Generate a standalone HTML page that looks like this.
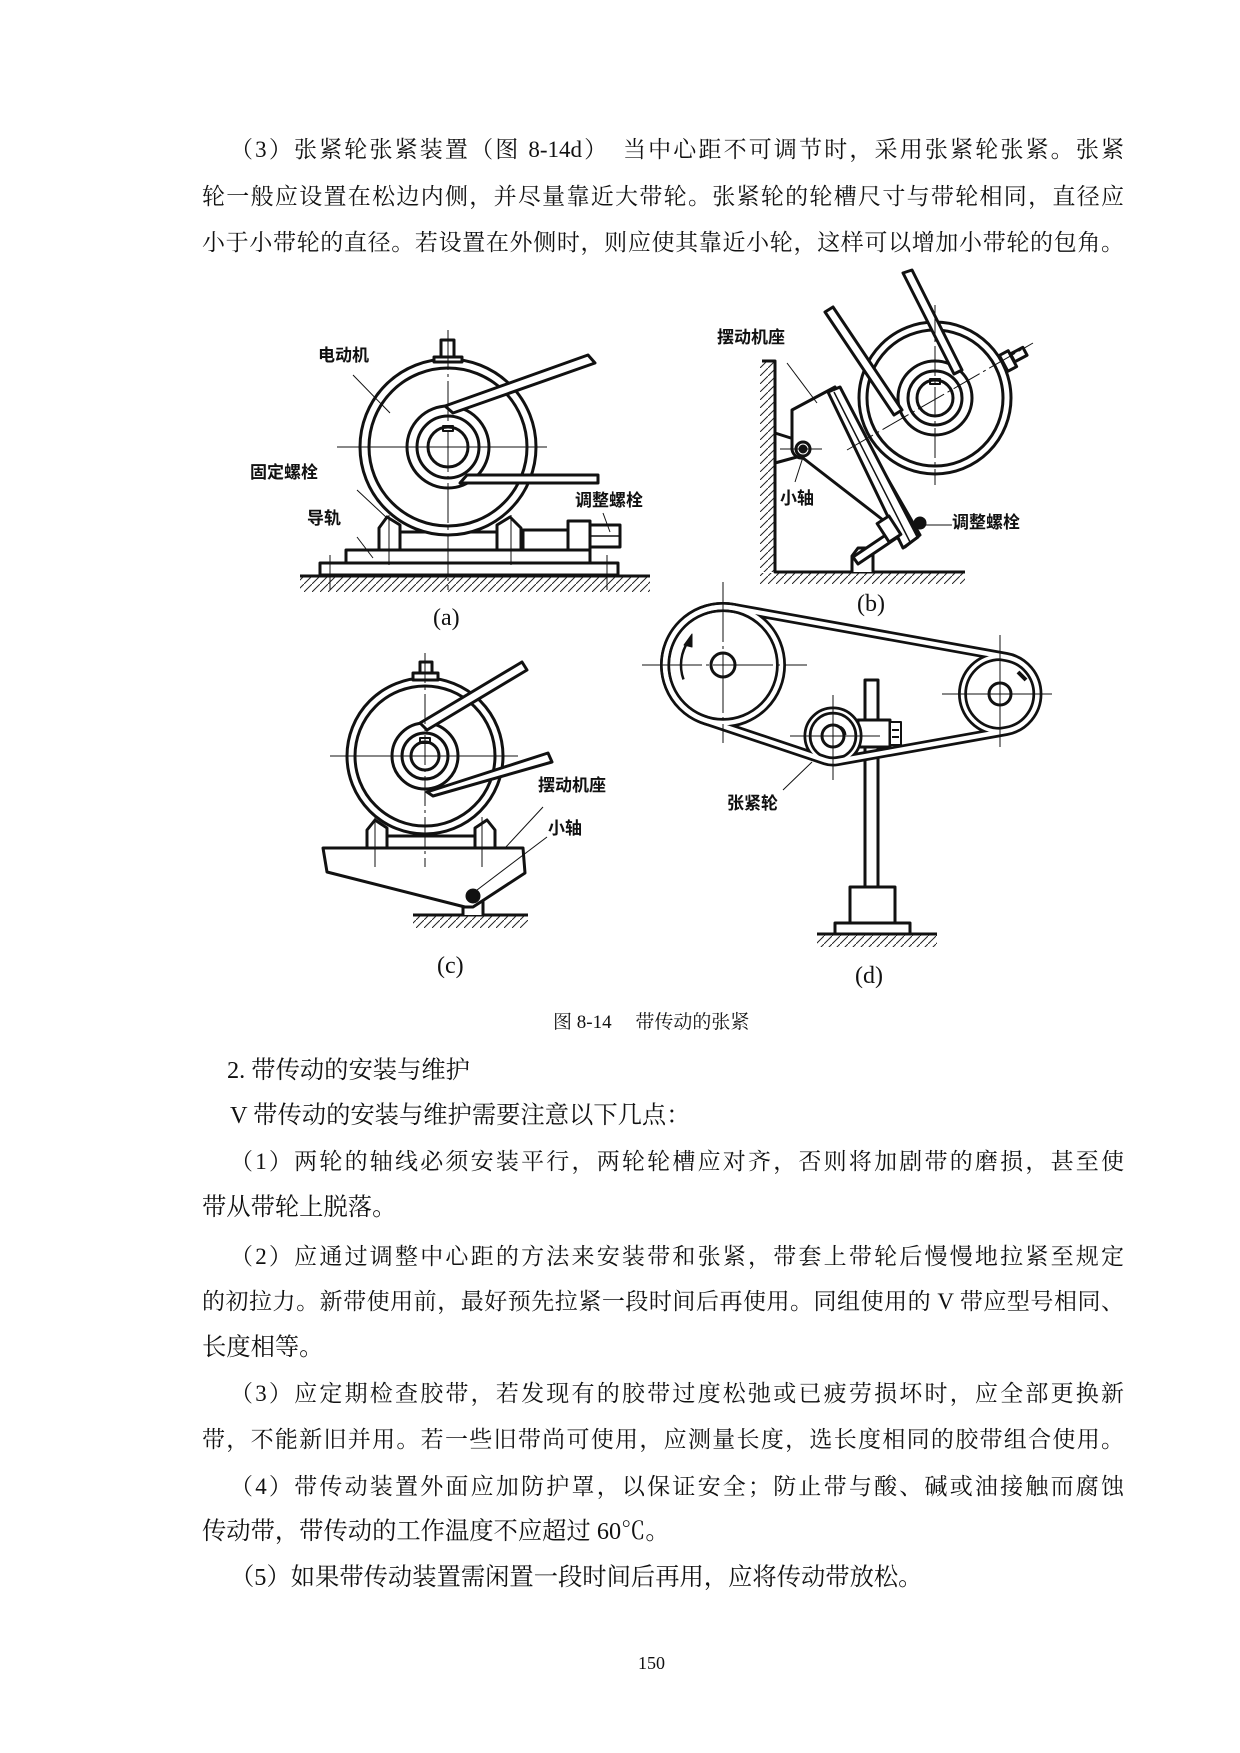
<!DOCTYPE html>
<html><head><meta charset="utf-8">
<style>
html,body{margin:0;padding:0;background:#fff;}
#pg{position:relative;width:1240px;height:1753px;overflow:hidden;background:#fff;}
.t{position:absolute;font-family:"Liberation Serif","Noto Serif CJK SC",serif;font-size:23px;line-height:24px;color:#111;white-space:nowrap;}
.s{font-size:24.3px;}
.j{text-align:justify;text-align-last:justify;white-space:normal;}
svg{position:absolute;left:0;top:0;}
.lb{font-family:"Liberation Sans","Noto Sans CJK SC",sans-serif;font-weight:bold;font-size:17px;fill:#111;}
.cap{font-family:"Liberation Serif",serif;font-size:24px;fill:#111;}
</style></head><body><div id="pg">

<div class="t j" style="left:230px;top:138px;width:894px;">（3）张紧轮张紧装置（图 8-14d）　当中心距不可调节时，采用张紧轮张紧。张紧</div>
<div class="t j" style="left:202px;top:185px;width:922px;">轮一般应设置在松边内侧，并尽量靠近大带轮。张紧轮的轮槽尺寸与带轮相同，直径应</div>
<div class="t j" style="left:202px;top:231px;width:922px;">小于小带轮的直径。若设置在外侧时，则应使其靠近小轮，这样可以增加小带轮的包角。</div>

<div class="t s" style="left:227px;top:1059px;">2. 带传动的安装与维护</div>
<div class="t s" style="left:230px;top:1104px;">V 带传动的安装与维护需要注意以下几点：</div>
<div class="t j" style="left:230px;top:1150px;width:894px;">（1）两轮的轴线必须安装平行，两轮轮槽应对齐，否则将加剧带的磨损，甚至使</div>
<div class="t s" style="left:202px;top:1196px;">带从带轮上脱落。</div>
<div class="t j" style="left:230px;top:1245px;width:894px;">（2）应通过调整中心距的方法来安装带和张紧，带套上带轮后慢慢地拉紧至规定</div>
<div class="t j" style="left:202px;top:1290px;width:922px;">的初拉力。新带使用前，最好预先拉紧一段时间后再使用。同组使用的 V 带应型号相同、</div>
<div class="t s" style="left:202px;top:1336px;">长度相等。</div>
<div class="t j" style="left:230px;top:1382px;width:894px;">（3）应定期检查胶带，若发现有的胶带过度松弛或已疲劳损坏时，应全部更换新</div>
<div class="t j" style="left:202px;top:1428px;width:922px;">带，不能新旧并用。若一些旧带尚可使用，应测量长度，选长度相同的胶带组合使用。</div>
<div class="t j" style="left:230px;top:1475px;width:894px;">（4）带传动装置外面应加防护罩，以保证安全；防止带与酸、碱或油接触而腐蚀</div>
<div class="t s" style="left:202px;top:1520px;">传动带，带传动的工作温度不应超过 60℃。</div>
<div class="t s" style="left:230px;top:1566px;">（5）如果带传动装置需闲置一段时间后再用，应将传动带放松。</div>
<div class="t" style="left:638px;top:1653px;font-size:18px;line-height:20px;">150</div>
<div class="t" style="left:553px;top:1012px;font-size:19px;line-height:22px;">图 8-14　 带传动的张紧</div>

<svg width="1240" height="1753" viewBox="0 0 1240 1753">
<defs>
<pattern id="h" patternUnits="userSpaceOnUse" width="8" height="8"><path d="M-1,9 L9,-1" stroke="#222" stroke-width="1"/></pattern>
</defs>
<g fill="none" stroke="#111" stroke-width="3" stroke-linejoin="round">

<rect x="300" y="577" width="350" height="15" fill="url(#h)" stroke="none"/>
<line x1="300" y1="576" x2="650" y2="576"/>
<rect x="320" y="563" width="298" height="12" fill="#fff"/>
<rect x="346" y="550" width="244" height="13" fill="#fff"/>
<rect x="523" y="530" width="45" height="20" fill="#fff"/>
<rect x="568" y="521" width="22" height="29" fill="#fff"/>
<rect x="590" y="525" width="30" height="22" fill="#fff"/>
<line x1="590" y1="536" x2="620" y2="536" stroke-width="1.5"/>
<path d="M379,550 L379,528 L387,517 L400,525 L400,550 Z" fill="#fff"/>
<path d="M497,550 L497,525 L510,517 L521,528 L521,550 Z" fill="#fff"/>
<rect x="400" y="532" width="97" height="18" fill="#fff"/>
<circle cx="448" cy="447" r="88" fill="#fff"/>
<circle cx="448" cy="447" r="79"/>
<circle cx="448" cy="447" r="41"/>
<circle cx="448" cy="447" r="31"/>
<circle cx="448" cy="447" r="20"/>
<rect x="443" y="426" width="10" height="5" stroke-width="2"/>
<rect x="441" y="340" width="13" height="17" fill="#fff"/>
<rect x="434" y="357" width="28" height="5" fill="#fff"/>
<polygon points="445,406 588,355 595,363 453,413" fill="#fff"/>
<polygon points="467,475 598,475 598,483 460,483" fill="#fff"/>
<g stroke-width="1">
<line x1="337" y1="447" x2="547" y2="447"/>
<line x1="448" y1="330" x2="448" y2="590" stroke-dasharray="40 4 3 4"/>
<line x1="330" y1="555" x2="330" y2="590"/><line x1="389" y1="515" x2="389" y2="565"/>
<line x1="511" y1="515" x2="511" y2="565"/><line x1="607" y1="555" x2="607" y2="590"/>
<line x1="353" y1="375" x2="390" y2="413"/>
<line x1="357" y1="490" x2="387" y2="518"/>
<line x1="357" y1="537" x2="373" y2="558"/>
<line x1="603" y1="513" x2="610" y2="532"/>
</g>

<rect x="760" y="361" width="15" height="211" fill="url(#h)" stroke="none"/>
<rect x="760" y="573" width="205" height="11" fill="url(#h)" stroke="none"/>
<polyline points="762,361 775,361 775,572 965,572"/>
<line x1="775" y1="433" x2="797" y2="440"/><line x1="775" y1="463" x2="797" y2="457"/>
<path d="M852,572 L852,556 L858,548 L873,548 L873,572" fill="#fff"/>
<path d="M792,410 L835,387 L920,535 L905,547 L883,520 L803,458 A10,10 0 0 1 792,447 Z" fill="#fff"/>
<polygon points="828,392 840,387 918,537 903,548" fill="#fff"/>
<line x1="834" y1="392" x2="910" y2="542" stroke-width="1.5"/>
<circle cx="803" cy="449" r="7" fill="#fff"/>
<circle cx="803" cy="449" r="3" fill="#111"/>
<polygon points="853,557 893,530 898,537 858,564" fill="#fff"/>
<rect x="882" y="518" width="14" height="22" transform="rotate(-33 889 529)" fill="#fff"/>
<circle cx="920" cy="523" r="5" fill="#111"/>
<circle cx="935" cy="398" r="76" fill="#fff"/>
<circle cx="935" cy="398" r="68"/>
<circle cx="935" cy="398" r="37"/>
<circle cx="935" cy="398" r="27"/>
<circle cx="935" cy="398" r="18"/>
<rect x="930" y="379" width="10" height="5" stroke-width="2"/>
<polygon points="825,312 833,307 902,410 894,415" fill="#fff"/>
<polygon points="903,273 912,270 962,370 954,374" fill="#fff"/>
<rect x="1003" y="352" width="10" height="18" transform="rotate(-28 1008 361)" fill="#fff"/>
<rect x="1012" y="350" width="14" height="9" transform="rotate(-28 1019 355)" fill="#fff"/>
<g stroke-width="1">
<line x1="935" y1="305" x2="935" y2="485" stroke-dasharray="30 4 3 4"/>
<line x1="847" y1="450" x2="1033" y2="343" stroke-dasharray="30 4 3 4"/>
<line x1="780" y1="449" x2="822" y2="449"/>
<line x1="787" y1="363" x2="817" y2="403"/>
<line x1="795" y1="482" x2="803" y2="457"/>
<line x1="925" y1="525" x2="952" y2="525"/>
</g>

<rect x="413" y="916" width="115" height="12" fill="url(#h)" stroke="none"/>
<line x1="413" y1="915" x2="528" y2="915"/>
<path d="M463,915 L463,895 A10,10 0 0 1 483,895 L483,915" fill="#fff"/>
<path d="M323,848 L523,848 L525,873 L473,907 L465,907 L327,872 Z" fill="#fff"/>
<circle cx="473" cy="896" r="6" fill="#111"/>
<path d="M367,848 L367,830 L375,820 L387,828 L387,848 Z" fill="#fff"/>
<path d="M475,848 L475,828 L487,820 L495,830 L495,848 Z" fill="#fff"/>
<rect x="387" y="836" width="88" height="12" fill="#fff"/>
<circle cx="425" cy="756" r="78" fill="#fff"/>
<circle cx="425" cy="756" r="70"/>
<circle cx="425" cy="756" r="33"/>
<circle cx="425" cy="756" r="23"/>
<circle cx="425" cy="756" r="14"/>
<rect x="420" y="738" width="10" height="5" stroke-width="2"/>
<rect x="420" y="662" width="12" height="11" fill="#fff"/>
<rect x="413" y="673" width="25" height="7" fill="#fff"/>
<polygon points="420,723 522,662 527,670 427,730" fill="#fff"/>
<polygon points="427,792 548,753 552,762 433,796" fill="#fff"/>
<g stroke-width="1">
<line x1="330" y1="756" x2="518" y2="756"/>
<line x1="425" y1="653" x2="425" y2="867" stroke-dasharray="30 4 3 4"/>
<line x1="375" y1="817" x2="375" y2="867"/><line x1="482" y1="817" x2="482" y2="867"/>
<line x1="505" y1="848" x2="543" y2="807"/>
<line x1="477" y1="890" x2="547" y2="837"/>
</g>

<rect x="817" y="935" width="120" height="12" fill="url(#h)" stroke="none"/>
<line x1="817" y1="934" x2="937" y2="934"/>
<rect x="835" y="923" width="75" height="11" fill="#fff"/>
<rect x="850" y="887" width="45" height="36" fill="#fff"/>
<rect x="865" y="680" width="13" height="207" fill="#fff"/>
<rect x="858" y="720" width="32" height="27" fill="#fff"/>
<rect x="890" y="722" width="11" height="23" fill="#fff" stroke-width="2"/>
<line x1="892" y1="730" x2="899" y2="730" stroke-width="2"/><line x1="892" y1="737" x2="899" y2="737" stroke-width="2"/>
<path d="M733.3,607.9 A58,58 0 0 0 704.7,720 L825,760.2 A25.5,25.5 0 0 0 837.5,761.1 L1006.6,730.9 A37.5,37.5 0 0 0 1006.6,657.1 Z" stroke-width="10"/>
<circle cx="723" cy="665" r="58" stroke-width="10"/>
<circle cx="1000" cy="694" r="37.5" stroke-width="9"/>
<circle cx="833" cy="736" r="25.5" stroke-width="8"/>
<g stroke="#fff">
<path d="M733.3,607.9 A58,58 0 0 0 704.7,720 L825,760.2 A25.5,25.5 0 0 0 837.5,761.1 L1006.6,730.9 A37.5,37.5 0 0 0 1006.6,657.1 Z" stroke-width="4.5"/>
<circle cx="723" cy="665" r="58" stroke-width="4.5"/>
<circle cx="1000" cy="694" r="37.5" stroke-width="3.5"/>
<circle cx="833" cy="736" r="25.5" stroke-width="2.5"/>
</g>
<circle cx="723" cy="665" r="12" fill="#fff"/>
<circle cx="1000" cy="694" r="11" fill="#fff"/>
<circle cx="833" cy="736" r="11" fill="#fff"/>
<path d="M683.5,679.4 A42,42 0 0 1 688.6,640.9" stroke-width="2.5"/>
<polygon points="692,634 684,645 692,647" fill="#111" stroke-width="1"/>
<path d="M1018,672 L1026,680" stroke-width="4"/>
<path d="M840,727 A10,10 0 0 1 845,735" stroke-width="3"/>
<g stroke-width="1">
<line x1="642" y1="665" x2="807" y2="665" stroke-dasharray="60 4 3 4"/>
<line x1="723" y1="582" x2="723" y2="743" stroke-dasharray="60 4 3 4"/>
<line x1="942" y1="694" x2="1052" y2="694"/>
<line x1="1000" y1="635" x2="1000" y2="747"/>
<line x1="790" y1="736" x2="880" y2="736"/>
<line x1="833" y1="695" x2="833" y2="780"/>
<line x1="783" y1="790" x2="812" y2="762"/>
</g>
</g>

<g>
<text class="lb" x="318" y="361">电动机</text>
<text class="lb" x="250" y="478">固定螺栓</text>
<text class="lb" x="307" y="524">导轨</text>
<text class="lb" x="575" y="506">调整螺栓</text>
<text class="cap" x="433" y="625">(a)</text>
<text class="lb" x="717" y="343">摆动机座</text>
<text class="lb" x="780" y="504">小轴</text>
<text class="lb" x="952" y="528">调整螺栓</text>
<text class="cap" x="857" y="611">(b)</text>
<text class="lb" x="538" y="791">摆动机座</text>
<text class="lb" x="548" y="834">小轴</text>
<text class="cap" x="437" y="973">(c)</text>
<text class="lb" x="727" y="809">张紧轮</text>
<text class="cap" x="855" y="983">(d)</text>
</g>
</svg>
</div></body></html>
